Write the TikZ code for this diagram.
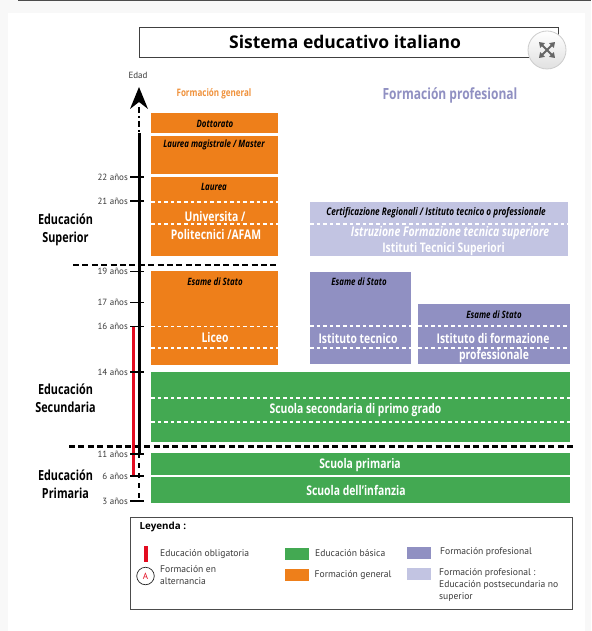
\documentclass[tikz,border=0pt]{standalone}
\usepackage{fontspec}
\setmainfont{Open Sans}
\newfontfamily\cond[FakeStretch=0.78]{Open Sans}
\newfontfamily\legf{PT Sans}
\usetikzlibrary{arrows.meta}
\definecolor{orangeb}{HTML}{EE7F1A}
\definecolor{greenb}{HTML}{43A952}
\definecolor{purpleb}{HTML}{9090C2}
\definecolor{lightb}{HTML}{C2C4E2}
\definecolor{pagebg}{HTML}{F8F8F8}
\definecolor{redb}{HTML}{E30B20}
\definecolor{labg}{HTML}{3A3A3A}
\tikzset{
 x=1pt,y=-1pt,
 wd/.style={draw=white,line width=1.9pt,dash pattern=on 3.6pt off 3pt},
 bd/.style={draw=black,line width=2.2pt,dash pattern=on 6pt off 3.4pt},
 tick/.style={draw=black,line width=1.8pt},
 age/.style={anchor=east,font=\legf\fontsize{9}{9}\selectfont,text=labg,inner sep=0pt},
 stage/.style={align=center,font=\cond\bfseries\fontsize{13.9}{18}\selectfont,inner sep=0pt},
 hw/.style={text=white,font=\cond\bfseries\fontsize{13.3}{13}\selectfont,inner sep=0pt},
 hk/.style={text=black,font=\cond\bfseries\itshape\fontsize{10.1}{10}\selectfont,inner sep=0pt},
 leg/.style={anchor=west,align=left,font=\legf\fontsize{9.6}{12}\selectfont,text=labg,inner sep=0pt},
}
\begin{document}
\begin{tikzpicture}
\useasboundingbox (0,0) rectangle (591,631);
\fill[pagebg] (0,0) rectangle (591,631);
\fill[white] (8,13) rectangle (585,631);
\fill[black!70] (18,0) rectangle (591,1);
% title
\node[draw=black!75,line width=0.8pt,minimum width=419pt,minimum height=30pt,inner sep=0pt,anchor=north west,fill=white] (title) at (139,27) {};
\node[font=\bfseries\fontsize{17.5}{18}\selectfont,inner sep=0pt] (titletext) at (345,42) {Sistema educativo italiano};
% expand button
\node[circle,minimum size=38pt,inner sep=0pt,draw=black!20,line width=0.8pt,top color=white,bottom color=black!12] (expand) at (547,50) {};
\draw[black!60,line width=2pt,{Triangle[length=5pt,width=6.5pt]}-{Triangle[length=5pt,width=6.5pt]}] (539,42) -- (555,58);
\draw[black!60,line width=2pt,{Triangle[length=5pt,width=6.5pt]}-{Triangle[length=5pt,width=6.5pt]}] (555,42) -- (539,58);
% axis
\coordinate (axa) at (139,107);
\coordinate (axb) at (139,133);
\coordinate (axc) at (139,453);
\coordinate (axd) at (139,501);
\draw[black,line width=2.4pt,dash pattern=on 6pt off 3pt on 2pt off 3pt] (axa) -- (axb);
\draw[black,line width=3pt] (axb) -- (axc);
\draw[black,line width=2.4pt,dash pattern=on 5pt off 5pt] (axc) -- (axd);
\fill[black] (139,87) -- (148,109) -- (139,102) -- (130,109) -- cycle;
\node[font=\legf\fontsize{9}{9}\selectfont,text=labg,inner sep=0pt] (edad) at (138,75) {Edad};
\coordinate (reda) at (133.5,327);
\coordinate (redb1) at (133.5,476);
\draw[redb,line width=3.4pt] (reda) -- (redb1);
% ticks and ages
\foreach \y/\t/\n in {177/22/a,201/21/b,271.5/19/c,302.5/17/d,326.5/16/e,372/14/f,454/11/g,476/6/h,501/3/i}{
  \draw[tick] (130,\y) -- (144,\y);
  \node[age] (age\n) at (128,\y) {\t\ años};
}
% orange
\fill[orangeb] (151,113) rectangle (278,133);
\fill[orangeb] (151,136) rectangle (278,174);
\fill[orangeb] (151,177) rectangle (278,256);
\fill[orangeb] (151,271) rectangle (278,365);
\draw[wd] (151,202) -- (278,202);
\draw[wd] (151,224) -- (278,224);
\draw[wd] (151,326.5) -- (278,326.5);
\draw[wd] (151,348) -- (278,348);
\node[hk] (dott) at (215,124) {Dottorato};
\node[hk] (lm) at (214,144.5) {Laurea magistrale / Master};
\node[hk] (lau) at (214,186.5) {Laurea};
\node[hw] (uni) at (215,217) {Universita /};
\node[hw] (pol) at (216,235) {Politecnici /AFAM};
\node[hk] (es1) at (215,282) {Esame di Stato};
\node[hw] (lic) at (215,338) {Liceo};
% light purple
\fill[lightb] (310,202) rectangle (568,256);
\draw[wd] (310,224) -- (568,224);
\node[hk,font=\cond\bfseries\itshape\fontsize{10.5}{10}\selectfont] (cert) at (436,213) {Certificazione Regionali  / Istituto tecnico o professionale};
\node[hw,font=\cond\bfseries\itshape\fontsize{13.4}{12}\selectfont] (itfs) at (450,233.5) {Istruzione Formazione tecnica superiore};
\node[hw,font=\cond\bfseries\fontsize{13.2}{12}\selectfont] (its) at (443.5,249) {Istituti Tecnici Superiori};
% purple
\fill[purpleb] (310,272) rectangle (411,364);
\fill[purpleb] (418,304) rectangle (570,364);
\draw[wd] (310,326) -- (411,326);
\draw[wd] (310,348) -- (411,348);
\draw[wd] (418,326) -- (570,326);
\draw[wd] (418,348) -- (570,348);
\node[hk] (es2) at (359,282) {Esame di Stato};
\node[hk] (es3) at (494,315) {Esame di Stato};
\node[hw] (ite) at (358,339) {Istituto tecnico};
\node[hw] (ifp) at (493,338) {Istituto di formazione};
\node[hw] (pro) at (494,356) {professionale};
% green
\fill[greenb] (151,372) rectangle (570,442);
\fill[greenb] (151,453) rectangle (570,475);
\fill[greenb] (151,477) rectangle (570,503);
\draw[wd] (151,398) -- (570,398);
\draw[wd] (151,422) -- (570,422);
\node[hw] (ssg) at (355.5,410) {Scuola secondaria di primo grado};
\node[hw] (spr) at (360,465.5) {Scuola primaria};
\node[hw] (sin) at (356,490.5) {Scuola dell’infanzia};
% black dashed
\coordinate (d1a) at (73,264.7); \coordinate (d1b) at (278,264.7);
\coordinate (d2a) at (69,446.4); \coordinate (d2b) at (575,446.4);
\draw[bd] (d1a) -- (d1b);
\draw[bd] (d2a) -- (d2b);
% headers
\node[text=orangeb!85!white,font=\cond\bfseries\fontsize{10.3}{10}\selectfont,inner sep=0pt] (fg) at (214,94) {Formación general};
\node[text=purpleb,font=\cond\bfseries\fontsize{15.4}{16}\selectfont,inner sep=0pt] (fp) at (450,95.5) {Formación profesional};
\node[stage] (sup) at (65.5,229.5) {Educación\\Superior};
\node[stage] (sec) at (65.5,398.5) {Educación\\Secundaria};
\node[stage] (pri) at (65.5,484.5) {Educación\\Primaria};
% legend
\node[draw=black!70,line width=0.9pt,minimum width=442pt,minimum height=92pt,inner sep=0pt,anchor=north west] (legend) at (130,517) {};
\node[anchor=west,font=\bfseries\fontsize{9.8}{10}\selectfont,inner sep=0pt] (ley) at (139.5,527) {Leyenda :};
\fill[redb] (144,546) rectangle (147.5,562);
\node[leg] (l1) at (160,554) {Educación obligatoria};
\node[circle,draw=black!85,line width=0.7pt,minimum size=17.5pt,inner sep=0pt,text=redb,font=\legf\fontsize{9}{9}\selectfont] (circA) at (145.5,576) {A};
\node[leg] (l2) at (160,575.5) {Formación  en\\alternancia};
\fill[greenb] (285,548) rectangle (309,560);
\fill[orangeb] (285,569) rectangle (309,581);
\fill[purpleb] (407,547) rectangle (431,559);
\fill[lightb] (407,568) rectangle (431,580);
\node[leg] (l3) at (315,553) {Educación básica};
\node[leg] (l4) at (314.5,575) {Formación general};
\node[leg] (l5) at (440,552) {Formación profesional};
\node[leg] (l6) at (439,585) {Formación profesional :\\Educación postsecundaria no\\superior};
\end{tikzpicture}
\end{document}
